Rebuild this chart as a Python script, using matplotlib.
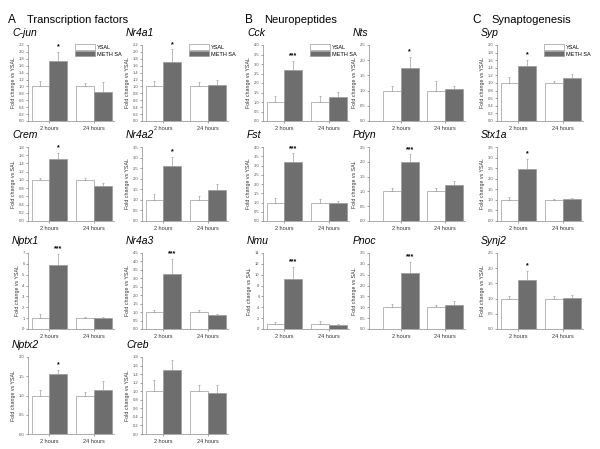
import matplotlib
matplotlib.use("Agg")
import matplotlib.pyplot as plt
from matplotlib.ticker import MultipleLocator, FormatStrFormatter

plt.rcParams['font.family'] = ['Liberation Sans', 'DejaVu Sans']

# ===================== DADOS =====================
genes = ["C-jun", "Nr4a1", "Crem", "Nr4a2", "Nptx1", "Nr4a3", "Nptx2", "Creb",
         "Cck", "Nts", "Fst", "Pdyn", "Nmu", "Pnoc",
         "Syp", "Stx1a", "Synj2"]
grupos = ["2 hours", "24 hours"]

ysal_media = [[1.0, 1.0], [1.0, 1.0], [1.0, 1.0], [1.0, 1.0], [1.0, 1.0], [1.0, 1.0], [1.0, 1.0], [1.0, 1.0],
              [1.0, 1.0], [1.0, 1.0], [1.0, 1.0], [1.0, 1.0], [1.0, 1.0], [1.0, 1.0],
              [1.0, 1.0], [1.0, 1.0], [1.0, 1.0]]
ysal_erro = [[0.15, 0.10], [0.15, 0.12], [0.05, 0.05], [0.30, 0.20], [0.40, 0.15], [0.15, 0.10], [0.15, 0.08], [0.27, 0.15],
             [0.30, 0.30], [0.15, 0.30], [0.25, 0.20], [0.12, 0.10], [0.30, 0.40], [0.15, 0.10],
             [0.15, 0.05], [0.15, 0.05], [0.10, 0.10]]
meth_media = [[1.75, 0.85], [1.72, 1.05], [1.50, 0.85], [2.60, 1.45], [5.90, 1.00], [3.25, 0.80], [1.55, 1.15], [1.50, 0.95],
              [2.70, 1.25], [1.75, 1.05], [3.20, 1.00], [2.00, 1.20], [9.30, 0.75], [2.60, 1.10],
              [1.45, 1.12], [2.45, 1.05], [1.62, 1.02]]
meth_erro = [[0.25, 0.28], [0.35, 0.15], [0.15, 0.07], [0.45, 0.30], [1.00, 0.15], [0.90, 0.10], [0.12, 0.22], [0.23, 0.20],
             [0.45, 0.30], [0.35, 0.10], [0.45, 0.08], [0.25, 0.15], [2.20, 0.15], [0.50, 0.20],
             [0.15, 0.13], [0.50, 0.05], [0.30, 0.10]]
estrelas = ["*", "*", "*", "*", "***", "***", "*", "",
            "***", "*", "***", "***", "***", "***",
            "*", "*", "*"]
ylabels = ["YSAL", "YSAL", "SAL", "YSAL", "YSAL", "YSAL", "YSAL", "YSAL",
           "YSAL", "YSAL", "YSAL", "SAL", "SAL", "SAL",
           "YSAL", "YSAL", "YSAL"]
ymax = [2.2, 2.2, 1.8, 3.5, 7, 4.5, 2.0, 1.8,
        4.0, 2.5, 4.0, 2.5, 14, 3.5,
        2.0, 3.5, 2.5]
ypasso = [0.2, 0.2, 0.2, 0.5, 1, 0.5, 0.5, 0.2,
          0.5, 0.5, 0.5, 0.5, 2, 0.5,
          0.2, 0.5, 0.5]
com_legenda = ["C-jun", "Nr4a1", "Cck", "Syp"]

secoes = [("A", "Transcription factors"), ("B", "Neuropeptides"), ("C", "Synaptogenesis")]

# ===================== LAYOUT (pixels) =====================
W, H = 600, 449
col_x = {"A1": 28, "A2": 142, "B1": 263, "B2": 369, "C1": 497}
linhas = [(45, 121), (147, 221), (253, 329), (357, 434)]
posicao = {
    "C-jun": ("A1", 0), "Nr4a1": ("A2", 0), "Crem": ("A1", 1), "Nr4a2": ("A2", 1),
    "Nptx1": ("A1", 2), "Nr4a3": ("A2", 2), "Nptx2": ("A1", 3), "Creb": ("A2", 3),
    "Cck": ("B1", 0), "Nts": ("B2", 0), "Fst": ("B1", 1), "Pdyn": ("B2", 1),
    "Nmu": ("B1", 2), "Pnoc": ("B2", 2),
    "Syp": ("C1", 0), "Stx1a": ("C1", 1), "Synj2": ("C1", 2),
}
secao_x = [(8, 27), (245, 264), (472, 491)]

cor_meth = "#6e6e6e"
cor_borda = "#9a9a9a"
cor_erro = "#a0a0a0"
cor_eixo = "#8c8c8c"

fig = plt.figure(figsize=(W / 100, H / 100), dpi=100)
fig.patch.set_facecolor("white")

for (letra, nome), (xl, xn) in zip(secoes, secao_x):
    fig.text(xl / W, 1 - 20 / H, letra, fontsize=8.5, va="center", ha="left")
    fig.text(xn / W, 1 - 20 / H, nome, fontsize=8, va="center", ha="left")

largura = 0.4
xs = [0, 1]
for i, gene in enumerate(genes):
    col, lin = posicao[gene]
    x0 = col_x[col]
    w = 86 if col != "B2" else 96
    top, bot = linhas[lin]
    ax = fig.add_axes([x0 / W, 1 - bot / H, w / W, (bot - top) / H])

    ys_err = [[0, 0], ysal_erro[i]]
    mt_err = [[0, 0], meth_erro[i]]
    b1 = ax.bar([x - largura / 2 for x in xs], ysal_media[i], largura, color="white",
                edgecolor=cor_borda, linewidth=0.5, yerr=ys_err,
                error_kw=dict(ecolor=cor_erro, elinewidth=0.5, capsize=1, capthick=0.5),
                label="YSAL")
    b2 = ax.bar([x + largura / 2 for x in xs], meth_media[i], largura, color=cor_meth,
                edgecolor=cor_borda, linewidth=0.5, yerr=mt_err,
                error_kw=dict(ecolor=cor_erro, elinewidth=0.5, capsize=1, capthick=0.5),
                label="METH SA")

    if estrelas[i]:
        topo = meth_media[i][0] + meth_erro[i][0]
        ax.text(largura / 2, topo + ymax[i] * 0.02, estrelas[i], ha="center", va="bottom",
                fontsize=5, fontweight="bold")

    ax.set_ylim(0, ymax[i])
    if col == "B2":
        ax.set_xlim(-0.72, 1.45)
    else:
        ax.set_xlim(-0.48, 1.45)
    ax.yaxis.set_major_locator(MultipleLocator(ypasso[i]))
    if ypasso[i] >= 1:
        ax.yaxis.set_major_formatter(FormatStrFormatter("%d"))
    else:
        ax.yaxis.set_major_formatter(FormatStrFormatter("%.1f"))
    ax.set_xticks(xs)
    ax.set_xticklabels(grupos)
    ax.tick_params(axis="y", labelsize=3, length=1.5, width=0.4, pad=1, colors="#555555")
    ax.tick_params(axis="x", labelsize=4, length=1.5, width=0.4, pad=2, colors="#555555")
    for lab in ax.get_xticklabels():
        lab.set_color("#333333")
    for s in ["top", "right"]:
        ax.spines[s].set_visible(False)
    for s in ["left", "bottom"]:
        ax.spines[s].set_color(cor_eixo)
        ax.spines[s].set_linewidth(0.5)
    ax.set_ylabel("Fold change vs " + ylabels[i], fontsize=3.8, labelpad=2, color="#333333")

    fig.text((x0 - 16) / W, 1 - (top - 12) / H, gene, fontsize=7.5, style="italic",
             ha="left", va="center")

    if gene in com_legenda:
        ax.legend(handles=[b1, b2], loc="upper left", bbox_to_anchor=(0.52, 1.04),
                  frameon=False, fontsize=4, handlelength=3.6, handleheight=1.1,
                  labelspacing=0.25, borderaxespad=0, handletextpad=0.4)

fig.savefig("out.png", dpi=100, facecolor="white")
